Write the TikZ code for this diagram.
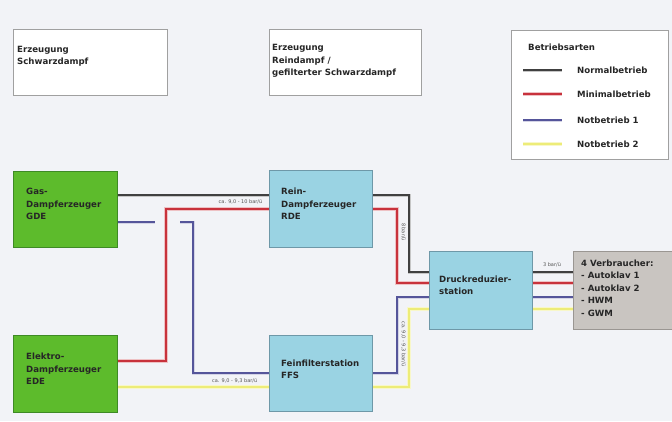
\documentclass[tikz,border=0pt]{standalone}
\usepackage{fontspec}
\setmainfont{DejaVu Sans}
\usetikzlibrary{calc}
\definecolor{bg}{HTML}{F2F3F7}
\definecolor{wbord}{HTML}{A0A0A0}
\definecolor{gfill}{HTML}{5DBB2C}
\definecolor{gbord}{HTML}{3E8A25}
\definecolor{bfill}{HTML}{9AD3E3}
\definecolor{bbord}{HTML}{6E98A8}
\definecolor{grfill}{HTML}{C9C5C1}
\definecolor{grbord}{HTML}{9A9692}
\definecolor{lblack}{HTML}{404040}
\definecolor{lred}{HTML}{C8323C}
\definecolor{lblue}{HTML}{55559A}
\definecolor{lyellow}{HTML}{EDEC78}
\definecolor{labcol}{HTML}{555555}
\begin{document}
\begin{tikzpicture}[x=1pt,y=-1pt,
  box/.style={draw, line width=1pt, inner sep=0pt, anchor=north west},
  wbox/.style={box, draw=wbord, fill=white},
  gbox/.style={box, draw=gbord, fill=gfill},
  bbox/.style={box, draw=bbord, fill=bfill},
  grbox/.style={box, draw=grbord, fill=grfill},
  txt/.style={inner sep=0pt, anchor=west, align=left, font=\bfseries\fontsize{8.6}{12.4}\selectfont, text=black!85},
  lab/.style={inner sep=0.5pt, font=\fontsize{5}{6}\selectfont, text=labcol},
  nb/.style={draw=lblack, line width=1.6pt, preaction={draw=lblack!30, line width=3pt}},
  mb/.style={draw=lred, line width=1.6pt, preaction={draw=lred!30, line width=3.6pt}},
  n1/.style={draw=lblue, line width=1.6pt, preaction={draw=lblue!25, line width=3pt}},
  n2/.style={draw=lyellow, line width=1.8pt, preaction={draw=lyellow!40, line width=3.6pt}}
]
\useasboundingbox[fill=bg] (0,0) rectangle (672,421);

% top boxes
\node[wbox, minimum width=154pt, minimum height=66pt] (es) at (13,29) {};
\node[txt] (est) at (17,56.5) {Erzeugung\\Schwarzdampf};
\node[wbox, minimum width=152pt, minimum height=66pt] (er) at (269,29) {};
\node[txt] (ert) at (272,61) {Erzeugung\\Reindampf /\\gefilterter Schwarzdampf};

% legend
\node[wbox, minimum width=157pt, minimum height=129pt] (leg) at (511,30) {};
\node[txt] (legt) at (528,47) {Betriebsarten};
\coordinate (la1) at (523,70); \coordinate (lb1) at (562,70);
\coordinate (la2) at (523,94); \coordinate (lb2) at (562,94);
\coordinate (la3) at (523,120); \coordinate (lb3) at (562,120);
\coordinate (la4) at (523,144); \coordinate (lb4) at (562,144);
\draw[nb] (la1) -- (lb1);
\draw[mb] (la2) -- (lb2);
\draw[n1] (la3) -- (lb3);
\draw[n2] (la4) -- (lb4);
\node[txt] (l1) at (577,70) {Normalbetrieb};
\node[txt] (l2) at (577,94) {Minimalbetrieb};
\node[txt] (l3) at (577,120) {Notbetrieb 1};
\node[txt] (l4) at (577,144) {Notbetrieb 2};

% main boxes
\node[gbox, minimum width=104pt, minimum height=76pt] (gde) at (13,171) {};
\node[txt] (gdet) at (26,204) {Gas-\\Dampferzeuger\\GDE};
\node[gbox, minimum width=104pt, minimum height=77pt] (ede) at (13,335) {};
\node[txt] (edet) at (26,369) {Elektro-\\Dampferzeuger\\EDE};
\node[bbox, minimum width=103pt, minimum height=77pt] (rde) at (269,170) {};
\node[txt] (rdet) at (281,204) {Rein-\\Dampferzeuger\\RDE};
\node[bbox, minimum width=103pt, minimum height=76pt] (ffs) at (269,335) {};
\node[txt] (ffst) at (281,369.5) {Feinfilterstation\\FFS};
\node[bbox, minimum width=103pt, minimum height=78pt] (drs) at (429,251) {};
\node[txt] (drst) at (439,285.5) {Druckreduzier-\\station};
\node[grbox, minimum width=110pt, minimum height=78pt] (vb) at (573,251) {};
\node[txt] (vbt) at (581,288) {4 Verbraucher:\\- Autoklav 1\\- Autoklav 2\\- HWM\\- GWM};

% black: Normalbetrieb
\draw[nb] (gde.east |- 0,195) -- (rde.west |- 0,195);
\draw[nb] (rde.east |- 0,195) -| (409,272) -- (drs.west |- 0,272);
\draw[nb] (drs.east |- 0,272) -- (vb.west |- 0,272);

% red: Minimalbetrieb
\draw[mb] (ede.east |- 0,361) -| (166,209) -- (rde.west |- 0,209);
\draw[mb] (rde.east |- 0,209) -| (397,283) -- (drs.west |- 0,283);
\draw[mb] (drs.east |- 0,283) -- (vb.west |- 0,283);

% blue: Notbetrieb 1
\coordinate (bj1) at (155,222);
\coordinate (bj2) at (180,222);
\draw[n1] (gde.east |- 0,222) -- (bj1);
\draw[n1] (bj2) -| (193,373) -- (ffs.west |- 0,373);
\draw[n1] (ffs.east |- 0,373) -| (397,297) -- (drs.west |- 0,297);
\draw[n1] (drs.east |- 0,297) -- (vb.west |- 0,297);

% yellow: Notbetrieb 2
\draw[n2] (ede.east |- 0,387) -- (ffs.west |- 0,387);
\draw[n2] (ffs.east |- 0,387) -| (409,309) -- (drs.west |- 0,309);
\draw[n2] (drs.east |- 0,309) -- (vb.west |- 0,309);

% pressure labels
\node[lab, anchor=east] (p1) at (263,202) {ca. 9,0 - 10 bar/ü};
\node[lab, anchor=east] (p2) at (258,380.5) {ca. 9,0 - 9,3 bar/ü};
\node[lab, rotate=-90] (p3) at (403.5,232) {8 bar/ü};
\node[lab, rotate=-90] (p4) at (403.5,344) {ca. 9,0 - 9,3 bar/ü};
\node[lab] (p5) at (552,265) {3 bar/ü};
\end{tikzpicture}
\end{document}
